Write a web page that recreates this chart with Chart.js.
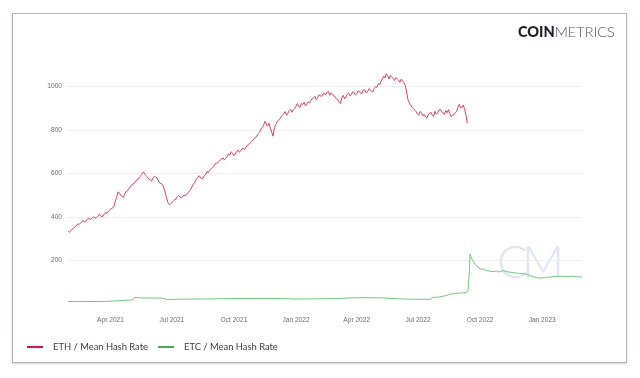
<!DOCTYPE html>
<html>
<head>
<meta charset="utf-8">
<script src="https://cdn.jsdelivr.net/npm/chart.js@4.4.1/dist/chart.umd.min.js"></script>
<style>
  html, body { margin:0; padding:0; background:#fff; }
  body { width:640px; height:378px; position:relative; overflow:hidden; font-family:Lato, 'Open Sans', sans-serif; }
  #frame { position:absolute; left:12px; top:13px; width:615px; height:350px; box-sizing:border-box; border:1px solid #b4b4bc; box-shadow:0 1px 2px rgba(0,0,0,0.18); }
  #wm { position:absolute; left:497px; top:236px; font-family:Lato, sans-serif; font-weight:300; font-size:46px; letter-spacing:-6px; color:#e1e4f1; line-height:50px; }
  #chart { position:absolute; left:0; top:0; }
  #logo { position:absolute; left:518px; top:23px; font-family:Lato, sans-serif; font-size:14.5px; line-height:18px; color:#1f1f2c; }
  #logo b { font-weight:900; }
  #logo span { font-weight:300; color:#55555f; }
  #legend { position:absolute; left:27px; top:341px; display:flex; align-items:center; font-family:Lato, sans-serif; font-size:9.4px; line-height:12px; color:#3c3c48; }
  .lg-item { display:flex; align-items:center; margin-right:10px; }
  .lg-line { width:16px; height:2.5px; margin-right:10px; }
</style>
</head>
<body>
<div id="frame"></div>
<div id="wm">CM</div>
<canvas id="chart" width="640" height="378"></canvas>
<div id="logo"><b>COIN</b><span>METRICS</span></div>
<div id="legend"></div>

<script>
/* ============================================================
   ETH vs ETC mean hash rate (Coin Metrics style)
   x = days since 2021-01-28, y = hash rate
============================================================ */

var START_DATE = '2021-01-28';
var END_DATE   = '2023-03-01';

// ETH: one reading every 2 days from START_DATE until the Merge
var ETH_STEP = 2;
var ETH_VALUES = [
  338,330,335,344,348,352,360,368,366,371,375,384,380,378,388,395,392,390,397,401,
  394,398,402,412,410,401,405,416,420,418,425,434,438,441,450,472,490,515,512,500,
  496,490,505,518,520,530,538,548,550,557,562,572,575,584,590,600,608,596,590,582,
  575,570,566,580,588,585,580,566,556,554,550,534,515,490,468,458,460,466,474,480,
  482,494,500,492,488,496,500,498,505,512,520,528,540,552,560,574,580,590,585,575,
  578,590,595,610,605,616,622,628,632,645,648,650,656,664,668,672,662,671,678,690,
  686,700,694,682,690,702,708,698,705,714,716,710,722,730,735,742,748,755,760,768,
  772,785,790,805,812,822,840,828,818,832,808,790,772,812,825,838,845,852,862,870,
  876,885,868,878,890,896,882,892,900,910,922,908,905,924,918,928,912,920,930,925,
  936,944,948,955,940,950,962,958,955,966,970,962,974,978,960,972,966,958,952,944,
  940,930,922,948,960,944,952,965,970,958,962,976,974,962,966,980,978,968,970,985,
  984,972,976,990,986,978,975,992,1000,996,1015,1008,1025,1035,1048,1040,1060,1050,1035,1052,
  1045,1038,1028,1042,1036,1030,1020,1034,1026,1018,1005,975,940,925,915,905,900,892,885,875,
  868,886,880,866,872,860,855,870,878,882,870,862,886,874,878,892,895,884,880,872,
  890,880,894,878,862,868,870,880,885,905,918,902,905,915,895,870,832
];

// ETC: irregular readings (day offset, value)
var ETC_DAYS = [
  0,14,28,42,55,70,85,96,99,104,
  110,125,140,147,150,165,180,196,220,245,
  274,300,325,340,360,380,400,418,425,445,
  467,490,510,537,541,550,562,566,575,585,
  591,593,595,596,598,601,604,608,611,615,
  618,621,625,630,635,640,645,651,658,666,
  673,680,689,695,700,708,715,722,729,735,
  740,749,755,762
];
var ETC_VALUES = [
  11.5,11,11.5,11.5,12,14,17,19,31.5,29,
  28,27.5,27,20.5,21,22,22.5,23,24,25,
  25.5,25.5,24.5,23,23.5,24.5,25,28,28.5,29,
  28,24,22,21.5,30,32,40,45,49,51,
  54,62,150,229,211,195,180,170,160,162,
  156,154,151,149,152,147,154,148,145,142,
  140,137,126,122,119,122,124,126,128,127,
  126,128,125,124
];

var X_TICK_DATES  = ['2021-04-01','2021-07-01','2021-10-01','2022-01-01','2022-04-01','2022-07-01','2022-10-01','2023-01-01'];
var X_TICK_LABELS = ['Apr 2021','Jul 2021','Oct 2021','Jan 2022','Apr 2022','Jul 2022','Oct 2022','Jan 2023'];
var Y_TICKS = [200, 400, 600, 800, 1000];

var SERIES = [
  { label:'ETH / Mean Hash Rate', line:'#ec3a62', legend:'#e3143f' },
  { label:'ETC / Mean Hash Rate', line:'#6ccb78', legend:'#3fb24f' },
];

function dayOf(iso) { return (Date.parse(iso) - Date.parse(START_DATE)) / 864e5; }

var X_TICK_DAYS = X_TICK_DATES.map(dayOf);

/* ── Chart ── */
function initChart() {
  var FONT = "'Liberation Sans', Arial, sans-serif";
  var ethPoints = ETH_VALUES.map(function(v, i) { return { x: i * ETH_STEP, y: v }; });
  var etcPoints = ETC_VALUES.map(function(v, i) { return { x: ETC_DAYS[i], y: v }; });

  new Chart(document.getElementById('chart').getContext('2d'), {
    type: 'line',
    data: {
      datasets: [
        { label:SERIES[0].label, data:ethPoints, borderColor:SERIES[0].line, borderWidth:1, pointRadius:0, tension:0 },
        { label:SERIES[1].label, data:etcPoints, borderColor:SERIES[1].line, borderWidth:1, pointRadius:0, tension:0 },
      ],
    },
    options: {
      responsive:false, animation:false,
      layout:{ padding:{ left:0, top:54, right:58, bottom:54 } },
      plugins:{ legend:{ display:false }, tooltip:{ enabled:false } },
      scales:{
        x:{
          type:'linear', min:0, max:dayOf(END_DATE),
          grid:{ display:false }, border:{ display:false },
          afterBuildTicks:function(axis) { axis.ticks = X_TICK_DAYS.map(function(d) { return { value:d }; }); },
          afterFit:function(s) { s.height = 20; },
          ticks:{ autoSkip:false, maxRotation:0, padding:4, color:'#6b6b75', font:{ family:FONT, size:6.6 },
            callback:function(v) { var i = X_TICK_DAYS.indexOf(v); return i < 0 ? '' : X_TICK_LABELS[i]; } },
        },
        y:{
          min:0, max:1150,
          grid:{ color:'#efeff2', drawTicks:false }, border:{ display:false },
          afterBuildTicks:function(axis) { axis.ticks = Y_TICKS.map(function(v) { return { value:v }; }); },
          afterFit:function(s) { s.width = 68; },
          ticks:{ padding:6, color:'#6b6b75', font:{ family:FONT, size:6.6 },
            callback:function(v) { return String(v); } },
        },
      },
    },
  });
}

/* ── Legend ── */
function renderLegend() {
  document.getElementById('legend').innerHTML = SERIES.map(function(s) {
    return '<div class="lg-item"><div class="lg-line" style="background:' + s.legend + '"></div><span>' + s.label + '</span></div>';
  }).join('');
}

document.addEventListener('DOMContentLoaded', function() {
  renderLegend();
  initChart();
});
</script>
</body>
</html>
